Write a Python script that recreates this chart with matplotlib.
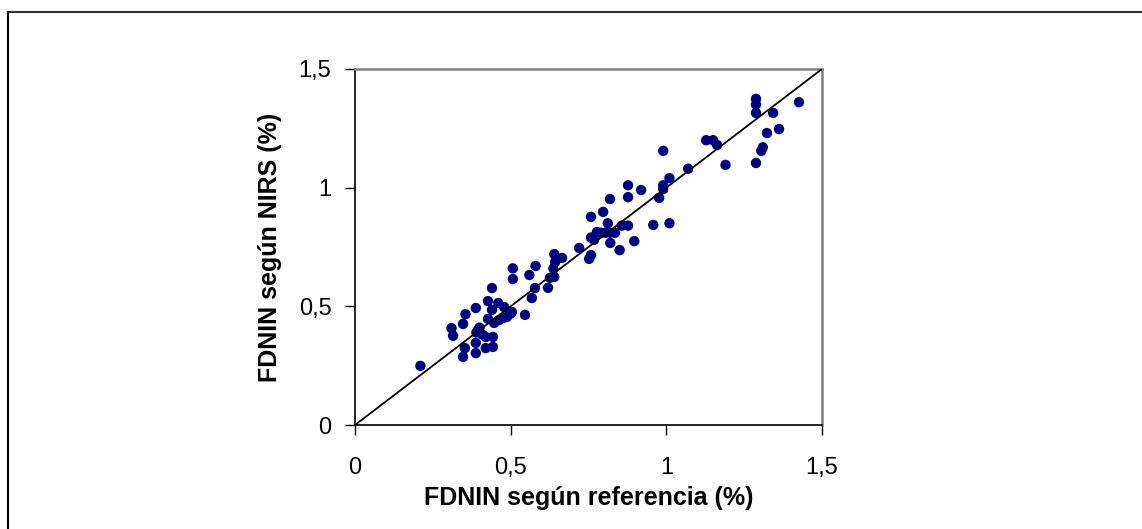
import matplotlib.pyplot as plt
from matplotlib.lines import Line2D

# FDNIN (%) : reference value vs NIRS prediction
ref = [0.21, 0.31, 0.315, 0.355, 0.347, 0.388, 0.353, 0.347, 0.388, 0.388,
       0.39, 0.40, 0.41, 0.395, 0.427, 0.44, 0.427, 0.42, 0.443, 0.42,
       0.443, 0.44, 0.46, 0.479, 0.504, 0.447, 0.462, 0.476, 0.488, 0.507,
       0.507, 0.546, 0.56, 0.58, 0.568, 0.578, 0.62, 0.626, 0.64, 0.637,
       0.643, 0.64, 0.665, 0.72, 0.752, 0.758, 0.768, 0.758, 0.777, 0.79,
       0.805, 0.82, 0.835, 0.82, 0.85, 0.897, 0.758, 0.797, 0.812, 0.857,
       0.877, 0.819, 0.877, 0.877, 0.919, 0.958, 0.977, 0.99, 0.99, 1.01,
       0.99, 1.01, 1.07, 1.128, 1.15, 1.163, 1.19, 1.288, 1.288, 1.288,
       1.288, 1.343, 1.426, 1.323, 1.362, 1.31, 1.305, 0.50]
nirs = [0.249, 0.408, 0.376, 0.467, 0.426, 0.493, 0.324, 0.287, 0.303, 0.346,
        0.39, 0.41, 0.38, 0.40, 0.522, 0.577, 0.447, 0.371, 0.371, 0.324,
        0.329, 0.485, 0.514, 0.497, 0.476, 0.43, 0.442, 0.451, 0.455, 0.66,
        0.615, 0.464, 0.632, 0.67, 0.535, 0.577, 0.578, 0.62, 0.624, 0.66,
        0.687, 0.72, 0.704, 0.746, 0.70, 0.716, 0.78, 0.79, 0.813, 0.81,
        0.81, 0.81, 0.81, 0.767, 0.737, 0.775, 0.877, 0.898, 0.85, 0.84,
        0.84, 0.952, 1.01, 0.96, 0.99, 0.843, 0.957, 1.155, 1.01, 1.04,
        0.994, 0.85, 1.08, 1.20, 1.20, 1.18, 1.096, 1.374, 1.35, 1.315,
        1.104, 1.315, 1.36, 1.23, 1.247, 1.17, 1.155, 0.47]

# 1:1 line
line_x = [0, 1.5]
line_y = [0, 1.5]

ticks = [0, 0.5, 1, 1.5]
tick_labels = ["0", "0,5", "1", "1,5"]

plt.rcParams['font.family'] = ['Liberation Sans', 'DejaVu Sans']

fig = plt.figure(figsize=(11.42, 5.29), dpi=100)
ax = fig.add_axes([355/1142, 1 - 425/529, 467/1142, 356/529])

ax.plot(line_x, line_y, color='black', lw=1.3, zorder=3)
ax.scatter(ref, nirs, s=56, color='#000080', edgecolors='none', zorder=2)

ax.set_xlim(0, 1.5)
ax.set_ylim(0, 1.5)
ax.set_xticks(ticks)
ax.set_xticklabels(tick_labels)
ax.set_yticks(ticks)
ax.set_yticklabels(tick_labels)
ax.tick_params(axis='x', direction='out', length=7, width=1, pad=16, labelsize=17)
ax.tick_params(axis='y', direction='out', length=7, width=1, pad=10, labelsize=17)

for s in ['left', 'bottom']:
    ax.spines[s].set_color('black')
    ax.spines[s].set_linewidth(1.2)
for s in ['top', 'right']:
    ax.spines[s].set_color('#808080')
    ax.spines[s].set_linewidth(1.8)

ax.set_xlabel("FDNIN según referencia (%)", fontsize=18, fontweight='bold', labelpad=5)
ax.set_ylabel("FDNIN según NIRS (%)", fontsize=18, fontweight='bold', labelpad=12)

# outer frame (top and left edges)
fig.add_artist(Line2D([8/1142, 1], [1 - 12/529, 1 - 12/529], color='#333333', lw=1.5,
                      transform=fig.transFigure))
fig.add_artist(Line2D([8/1142, 8/1142], [0, 1 - 12/529], color='black', lw=1.5,
                      transform=fig.transFigure))

fig.savefig("out.png", dpi=100)
